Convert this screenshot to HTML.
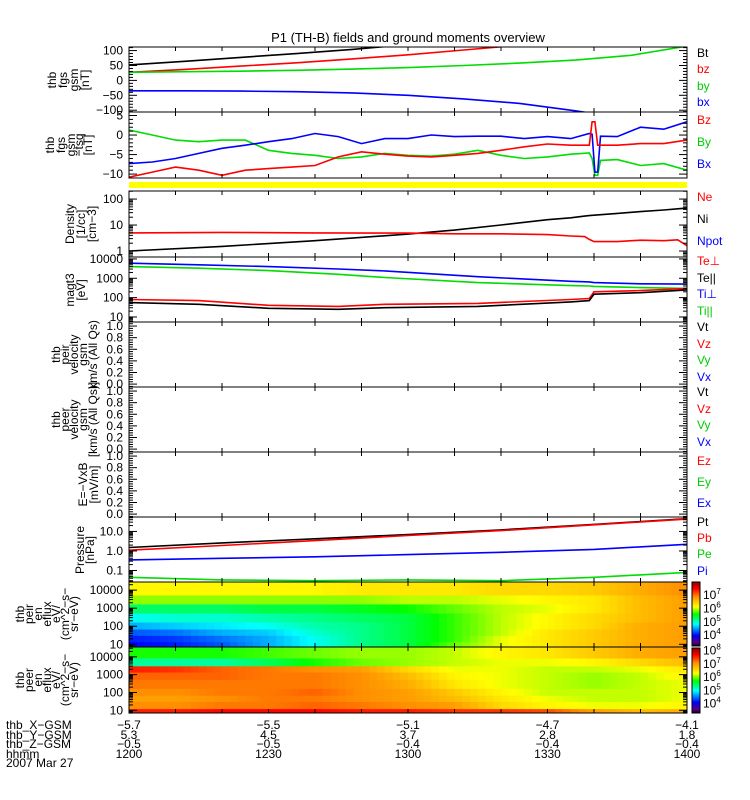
<!DOCTYPE html>
<html><head><meta charset="utf-8"><title>P1 (TH-B) overview</title>
<style>
html,body{margin:0;padding:0;background:#fff;}
svg{display:block;font-family:"Liberation Sans",sans-serif;}
</style></head>
<body>
<svg id="fig" width="750" height="800" viewBox="0 0 750 800" xmlns="http://www.w3.org/2000/svg">
<text x="408" y="42" font-size="13" text-anchor="middle">P1 (TH-B) fields and ground moments overview</text>
<g id="layer"></g>
</svg>
<script>
// ---- time axis (minutes after 12:00) ----
const xTickMinutes = [0, 30, 60, 90, 120];
const xTickHHMM = ["1200", "1230", "1300", "1330", "1400"];
const xGsm = ["-5.7", "-5.5", "-5.1", "-4.7", "-4.1"];
const yGsm = ["5.3", "4.5", "3.7", "2.8", "1.8"];
const zGsm = ["-0.5", "-0.5", "-0.4", "-0.4", "-0.4"];

// ---- panel 1: fgs gsm (nT) ----
const fgsTime = [0, 12, 24, 36, 48, 60, 72, 84, 96, 108, 120];
const fgsBt = [52, 64, 77, 90, 104, 120, 138, 158, 180, 205, 235];
const fgsBz = [27, 37, 48, 59, 72, 86, 102, 118, 136, 156, 178];
const fgsBy = [27, 29, 31, 34, 38, 43, 50, 58, 68, 84, 115];
const fgsBx = [-35, -35, -36, -38, -42, -50, -62, -77, -102, -130, -165];

// ---- panel 2: fgs - tsyganenko (nT) ----
const tsqTime = [0, 5, 10, 15, 20, 25, 30, 35, 40, 45, 50, 55, 60, 65, 70, 75, 80, 85, 90, 95, 99, 99.6, 100.2, 100.8, 101.4, 105, 110, 115, 120];
const tsqBy = [1.3, 0, -1.3, -1.7, -1.3, -1.3, -3.9, -4.7, -5.2, -6, -5.6, -4.7, -5.2, -5.4, -4.9, -3.9, -5.2, -6, -5.6, -4.9, -4.6, -6, -10.3, -10.3, -6.5, -6.3, -7.8, -7.3, -9];
const tsqBx = [-7.3, -6.9, -6, -4.7, -3.4, -2.6, -1.7, -0.9, 0.4, -0.4, -2.2, -0.9, -0.9, 0, -0.4, -0.3, -0.3, -0.9, -0.4, -0.9, 0.4, 0.2, -9.5, -9.5, -0.3, -0.4, 2, 1.5, 3.4];
const tsqBz = [-10.8, -9.5, -8.2, -9, -10.3, -9, -8.6, -8.2, -7.8, -5.6, -4.3, -4.9, -5.4, -5.6, -5.2, -4.7, -3.9, -3, -2.3, -2.6, -2.6, 3.4, 3.4, -2.6, -2.6, -2.6, -2.2, -2.2, -1.3];

// ---- panel 3: density (1/cc) ----
const denTime = [0, 20, 40, 60, 70, 80, 90, 95, 98, 99, 100, 105, 110, 115, 118, 120];
const denNi = [1.0, 1.5, 2.5, 4.5, 6.4, 10, 16, 19, 22, 23, 24, 28, 33, 38, 42, 45];
const denNe = [5, 5.2, 5, 4.9, 4.6, 4.6, 4.3, 3.8, 3.6, 2.8, 2.3, 2.3, 2.6, 2.5, 2.7, 1.6];

// ---- panel 4: temperature (eV) ----
const tmpTime = [0, 15, 30, 45, 55, 75, 95, 99, 100, 110, 120];
const tmpTiPerp = [6000, 5000, 4000, 3000, 2400, 1200, 700, 650, 600, 520, 500];
const tmpTiPar = [4000, 3300, 2500, 1600, 1100, 600, 420, 400, 380, 330, 300];
const tmpTePerp = [80, 70, 40, 35, 45, 50, 80, 90, 200, 230, 300];
const tmpTePar = [55, 45, 28, 25, 30, 35, 60, 70, 150, 180, 250];

// ---- panel 8: pressure (nPa) ----
const prsTime = [0, 20, 40, 60, 80, 100, 120];
const prsPt = [1.5, 2.6, 4.2, 7, 12, 23, 45];
const prsPb = [1.1, 1.9, 3.4, 6.2, 11, 22, 43];
const prsPi = [0.35, 0.42, 0.5, 0.65, 0.85, 1.2, 2.2];
const prsPe = [0.045, 0.033, 0.03, 0.033, 0.03, 0.045, 0.08];

// ---- spectrograms: log10 eflux, columns every 10 min, rows bottom->top ----
const specTime = [0, 10, 20, 30, 40, 50, 60, 70, 80, 90, 100, 110, 120];
const ionEnergy = [10, 20, 50, 100, 300, 1000, 3000, 10000];
const ionFlux = [
 [4.0,4.1,4.3,4.6,4.9,5.3,5.9,6.2],
 [4.1,4.2,4.4,4.7,5.0,5.3,5.9,6.2],
 [4.3,4.4,4.6,4.8,5.0,5.3,5.9,6.2],
 [4.6,4.6,4.7,4.9,5.1,5.4,5.9,6.2],
 [4.9,4.9,5.0,5.1,5.2,5.4,5.9,6.2],
 [5.2,5.2,5.2,5.2,5.3,5.5,5.9,6.3],
 [5.4,5.4,5.4,5.4,5.4,5.6,6.0,6.3],
 [5.8,5.7,5.7,5.7,5.7,5.8,6.0,6.3],
 [6.1,6.1,6.0,6.0,6.0,6.0,6.1,6.4],
 [6.3,6.3,6.3,6.2,6.2,6.1,6.2,6.4],
 [6.5,6.5,6.5,6.4,6.4,6.3,6.3,6.5],
 [6.7,6.7,6.7,6.7,6.6,6.6,6.6,6.7],
 [6.8,6.8,6.8,6.8,6.8,6.8,6.8,6.9]];
const eleEnergy = [8, 20, 50, 100, 300, 1000, 2000, 5000, 15000];
const eleFlux = [
 [7.6,7.1,7.0,7.1,7.2,7.3,7.6,5.3,5.8],
 [7.6,7.1,7.0,7.1,7.2,7.3,7.5,5.3,5.8],
 [7.7,7.2,7.1,7.2,7.2,7.3,7.3,5.3,5.8],
 [7.7,7.2,7.2,7.2,7.2,7.2,7.2,5.5,5.9],
 [7.7,7.3,7.2,7.3,7.2,7.2,7.1,5.8,6.0],
 [7.6,7.2,7.1,7.1,7.1,7.1,7.0,6.0,6.1],
 [7.6,7.1,7.0,7.0,6.9,6.8,6.6,6.1,6.1],
 [7.5,7.0,6.8,6.7,6.5,6.4,6.3,6.2,6.2],
 [7.5,6.6,6.5,6.4,6.3,6.3,6.3,6.3,6.4],
 [7.4,6.4,6.3,6.2,6.2,6.2,6.2,6.3,6.5],
 [7.0,6.3,6.2,6.2,6.1,6.1,6.2,6.4,6.7],
 [6.8,6.3,6.2,6.2,6.2,6.2,6.3,6.6,6.9],
 [6.9,6.4,6.3,6.3,6.3,6.4,6.5,6.8,7.0]];

// ================= rendering =================
const NS = "http://www.w3.org/2000/svg";
const layer = document.getElementById("layer");
const X0 = 129, X1 = 687;
function xScale(m){ return X0 + (m/120)*(X1-X0); }
function mk(tag, attrs, parent){
  const e = document.createElementNS(NS, tag);
  for (const k in attrs) e.setAttribute(k, attrs[k]);
  (parent||layer).appendChild(e);
  return e;
}
function linY(top, bot, vmin, vmax){ return v => bot - (v - vmin)/(vmax - vmin)*(bot - top); }
function logY(top, bot, lmin, lmax){ return v => bot - (Math.log10(v) - lmin)/(lmax - lmin)*(bot - top); }

function clipFor(id, top, bot){
  const cp = mk("clipPath", {id:id});
  mk("rect", {x:X0, y:top, width:X1-X0, height:bot-top}, cp);
  return "url(#"+id+")";
}
function series(times, vals, ys, color, clip, name){
  let pts = times.map((t,i)=> xScale(t).toFixed(1)+","+ys(vals[i]).toFixed(1)).join(" ");
  const p = mk("polyline", {points:pts, fill:"none", stroke:color, "stroke-width":1.6, "clip-path":clip});
  
  
}
function frame(top, bot, name){
  const r = mk("rect", {x:X0, y:top, width:X1-X0, height:bot-top, fill:"none", stroke:"#000", "stroke-width":1});
  
  
  for (let m=0; m<=120; m+=10){
    const x = xScale(m);
    mk("line", {x1:x, y1:top, x2:x, y2:top+4, stroke:"#000"});
    mk("line", {x1:x, y1:bot, x2:x, y2:bot-4, stroke:"#000"});
  }
}
function ytick(y, len){
  mk("line", {x1:X0, y1:y, x2:X0+len, y2:y, stroke:"#000"});
  mk("line", {x1:X1, y1:y, x2:X1-len, y2:y, stroke:"#000"});
}
function ylabel(y, txt){
  const t = mk("text", {x:123, y:y+4, "font-size":12, "text-anchor":"end"});
  t.textContent = txt;
  
  
}
function linTicks(ys, top, bot, major, minor, labels){
  for (let v=-200; v<=200; v+=minor){
    const vv = Math.round(v*1000)/1000, y = ys(vv);
    if (y < top-0.5 || y > bot+0.5) continue;
    const isMaj = Math.abs(vv/major - Math.round(vv/major)) < 1e-6;
    ytick(y, isMaj ? 8 : 4);
  }
  labels.forEach(l => ylabel(ys(l[0]), l[1]));
}
function logTicks(ys, top, bot, dmin, dmax, labels){
  for (let d=dmin; d<=dmax; d++){
    for (let k=1;k<10;k++){
      const y = ys(k*Math.pow(10,d));
      if (y < top-0.5 || y > bot+0.5) continue;
      ytick(y, k===1 ? 8 : 4);
    }
  }
  labels.forEach(l => ylabel(ys(l[0]), l[1]));
}
function leftTitle(lines, cy, xs, name){
  const g = mk("g", {});
  
  
  lines.forEach((s,i)=>{
    const t = mk("text", {x:0, y:0, "font-size":12, "text-anchor":"middle", transform:"translate("+xs[i]+","+cy+") rotate(-90)"}, g);
    t.textContent = s;
  });
}
function rightLabels(items, name){
  items.forEach(it=>{
    const t = mk("text", {x:697, y:it[0], "font-size":12, fill:it[2]});
    t.textContent = it[1];
    
    
  });
}
// colormap
const cstops = [[0,[0,0,0]],[0.06,[90,0,130]],[0.17,[0,0,255]],[0.35,[0,255,255]],[0.5,[0,255,0]],[0.62,[255,255,0]],[0.78,[255,140,0]],[0.9,[255,0,0]],[1,[150,0,0]]];
function cmap(t){
  t = Math.max(0, Math.min(1, t));
  for (let i=1;i<cstops.length;i++){
    if (t <= cstops[i][0]){
      const a=cstops[i-1], b=cstops[i], f=(t-a[0])/(b[0]-a[0]);
      const c=a[1].map((v,j)=>Math.round(v+(b[1][j]-v)*f));
      return "rgb("+c.join(",")+")";
    }
  }
  return "rgb(150,0,0)";
}
function spectro(top, bot, ys, energies, flux, fmin, fmax, name){
  const g = mk("g", {"clip-path":clipFor(name+"-clip", top, bot)});
  
  
  const le = energies.map(e=>Math.log10(e));
  const SUB = 6;
  for (let c=0;c<specTime.length-1;c++){
    for (let s=0;s<SUB;s++){
      const f = s/SUB;
      const ta = specTime[c] + (specTime[c+1]-specTime[c])*f;
      const tb = specTime[c] + (specTime[c+1]-specTime[c])*(s+1)/SUB;
      const xa = xScale(ta), xb = xScale(tb);
      for (let r=0;r<energies.length;r++){
        const lo = r===0 ? -1 : (le[r-1]+le[r])/2;
        const hi = r===energies.length-1 ? 6 : (le[r]+le[r+1])/2;
        const yb = ys(Math.pow(10,lo)), yt = ys(Math.pow(10,hi));
        const v = flux[c][r]*(1-f-0.5/SUB) + flux[c+1][r]*(f+0.5/SUB);
        mk("rect", {x:xa.toFixed(2), y:yt.toFixed(2), width:(xb-xa+0.6).toFixed(2), height:(yb-yt+0.6).toFixed(2), fill:cmap((v-fmin)/(fmax-fmin))}, g);
      }
    }
  }
}
function colorbar(top, bot, fmin, fmax, name){
  const g = mk("g", {});
  
  
  const n = 60;
  for (let i=0;i<n;i++){
    const y = top + (bot-top)*i/n;
    mk("rect", {x:692, y:y, width:8, height:(bot-top)/n+0.5, fill:cmap(1 - i/n)}, g);
  }
  mk("rect", {x:692, y:top, width:8, height:bot-top, fill:"none", stroke:"#000"}, g);
  for (let d=Math.ceil(fmin); d<=Math.floor(fmax); d++){
    const y = bot - (d-fmin)/(fmax-fmin)*(bot-top);
    const t = mk("text", {x:703, y:y+4, "font-size":12}, g);
    t.textContent = "10";
    const s = mk("tspan", {dy:-5, "font-size":8}, t);
    s.textContent = String(d);
  }
}

// ---- Panel 1 ----
(function(){
  const top=47, bot=112, ys=linY(top,bot,-106,112), clip=clipFor("c1",top,bot);
  series(fgsTime, fgsBt, ys, "#000", clip, "fgs-bt-line");
  series(fgsTime, fgsBz, ys, "#f00", clip, "fgs-bz-line");
  series(fgsTime, fgsBy, ys, "#0d0", clip, "fgs-by-line");
  series(fgsTime, fgsBx, ys, "#00f", clip, "fgs-bx-line");
  frame(top, bot, "fgs-panel");
  linTicks(ys, top, bot, 50, 10, [[100,"100"],[50,"50"],[0,"0"],[-50,"\u221250"],[-100,"\u2212100"]]);
  leftTitle(["thb","fgs","gsm","[nT]"], 80, [56,67,78,89], "fgs-y-title");
  rightLabels([[57,"Bt","#000"],[73,"bz","#f00"],[90,"by","#0c0"],[106,"bx","#00f"]], "legend");
})();
// ---- Panel 2 ----
(function(){
  const top=112, bot=178, ys=linY(top,bot,-11.0,5.9), clip=clipFor("c2",top,bot);
  series(tsqTime, tsqBy, ys, "#0d0", clip, "tsq-by-line");
  series(tsqTime, tsqBx, ys, "#00f", clip, "tsq-bx-line");
  series(tsqTime, tsqBz, ys, "#f00", clip, "tsq-bz-line");
  frame(top, bot, "fgs-tsq-panel");
  linTicks(ys, top, bot, 5, 1, [[5,"5"],[0,"0"],[-5,"\u22125"],[-10,"\u221210"]]);
  leftTitle(["thb","fgs","gsm","\u2212tsq","[nT]"], 145, [54,65,75,83,92], "tsq-y-title");
  rightLabels([[124,"Bz","#f00"],[146,"By","#0c0"],[168,"Bx","#00f"]], "legend");
  const yb = mk("rect", {x:X0, y:182, width:X1-X0, height:6, fill:"#ffff00"});
  
  
})();
// ---- Panel 3 density ----
(function(){
  const top=191, bot=257, ys=logY(top,bot,-0.23,2.31), clip=clipFor("c3",top,bot);
  series(denTime, denNi, ys, "#000", clip, "density-ni-line");
  series(denTime, denNe, ys, "#f00", clip, "density-ne-line");
  frame(top, bot, "density-panel");
  logTicks(ys, top, bot, -1, 2, [[100,"100"],[10,"10"],[1,"1"]]);
  leftTitle(["Density","[1/cc]","[cm\u22123]"], 224, [74,85,96], "density-y-title");
  rightLabels([[201,"Ne","#f00"],[223,"Ni","#000"],[245,"Npot","#00f"]], "legend");
})();
// ---- Panel 4 temperature ----
(function(){
  const top=257, bot=322, ys=logY(top,bot,0.74,4.1), clip=clipFor("c4",top,bot);
  series(tmpTime, tmpTiPerp, ys, "#00f", clip, "temp-ti-perp-line");
  series(tmpTime, tmpTiPar, ys, "#0d0", clip, "temp-ti-par-line");
  series(tmpTime, tmpTePerp, ys, "#f00", clip, "temp-te-perp-line");
  series(tmpTime, tmpTePar, ys, "#000", clip, "temp-te-par-line");
  frame(top, bot, "temperature-panel");
  logTicks(ys, top, bot, 0, 4, [[10000,"10000"],[1000,"1000"],[100,"100"],[10,"10"]]);
  leftTitle(["magt3","[eV]"], 290, [74,85], "temperature-y-title");
  rightLabels([[265,"Te\u22a5","#f00"],[282,"Te||","#000"],[298,"Ti\u22a5","#00f"],[315,"Ti||","#0c0"]], "legend");
})();
// ---- Panels 5-7 empty ----
function emptyPanel(top, bot, titles, xs, labels, name){
  const ys = linY(top, bot, -0.05, 1.07);
  frame(top, bot, name);
  linTicks(ys, top, bot, 0.2, 0.04, [[1.0,"1.0"],[0.8,"0.8"],[0.6,"0.6"],[0.4,"0.4"],[0.2,"0.2"],[0.0,"0.0"]]);
  leftTitle(titles, (top+bot)/2, xs, name+"-y-title");
  rightLabels(labels, "legend");
}
emptyPanel(322, 387, ["thb","peir","velocity","gsm","km/s (All Qs)"], [60,69,78,87,97],
  [[331,"Vt","#000"],[348,"Vz","#f00"],[364,"Vy","#0c0"],[381,"Vx","#00f"]], "peir-velocity-panel");
emptyPanel(387, 452, ["thb","peer","velocity","gsm","[km/s (All Qs)]"], [60,69,78,87,97],
  [[396,"Vt","#000"],[413,"Vz","#f00"],[429,"Vy","#0c0"],[446,"Vx","#00f"]], "peer-velocity-panel");
emptyPanel(452, 517, ["E=\u2212VxB","[mV/m]"], [87,98],
  [[465,"Ez","#f00"],[486,"Ey","#0c0"],[507,"Ex","#00f"]], "efield-panel");
// ---- Panel 8 pressure ----
(function(){
  const top=517, bot=582, ys=logY(top,bot,-1.59,1.74), clip=clipFor("c8",top,bot);
  series(prsTime, prsPt, ys, "#000", clip, "pressure-pt-line");
  series(prsTime, prsPb, ys, "#f00", clip, "pressure-pb-line");
  series(prsTime, prsPi, ys, "#00f", clip, "pressure-pi-line");
  series(prsTime, prsPe, ys, "#0d0", clip, "pressure-pe-line");
  frame(top, bot, "pressure-panel");
  logTicks(ys, top, bot, -2, 1, [[10,"10.0"],[1,"1.0"],[0.1,"0.1"]]);
  leftTitle(["Pressure","[nPa]"], 550, [84,94], "pressure-y-title");
  rightLabels([[526,"Pt","#000"],[542,"Pb","#f00"],[558,"Pe","#0c0"],[575,"Pi","#00f"]], "legend");
})();
// ---- Panel 9 ion spectrogram ----
(function(){
  const top=582, bot=647, ys=logY(top,bot,0.85,4.45);
  spectro(top, bot, ys, ionEnergy, ionFlux, 3.2, 7.96, "ion-spectrogram");
  frame(top, bot, "ion-spectrogram-panel");
  logTicks(ys, top, bot, 0, 4, [[10000,"10000"],[1000,"1000"],[100,"100"],[10,"10"]]);
  leftTitle(["thb","peir","en","eflux","eV/","(cm^2\u2212s\u2212","sr\u2212eV)"], 614, [24,33,42,51,60,69,78], "ion-spectrogram-y-title");
  colorbar(582, 646, 3.2, 7.96, "ion-colorbar");
})();
// ---- Panel 10 electron spectrogram ----
(function(){
  const top=647, bot=713, ys=logY(top,bot,0.85,4.55);
  spectro(top, bot, ys, eleEnergy, eleFlux, 3.3, 8.2, "electron-spectrogram");
  frame(top, bot, "electron-spectrogram-panel");
  logTicks(ys, top, bot, 0, 4, [[10000,"10000"],[1000,"1000"],[100,"100"],[10,"10"]]);
  leftTitle(["thb","peer","en","eflux","eV/","(cm^2\u2212s\u2212","sr\u2212eV)"], 680, [24,33,42,51,60,69,78], "electron-spectrogram-y-title");
  colorbar(648, 713, 3.3, 8.2, "electron-colorbar");
})();
// ---- bottom annotation rows ----
(function(){
  const rows = [["thb_X\u2212GSM", xGsm, 729],["thb_Y\u2212GSM", yGsm, 739],["thb_Z\u2212GSM", zGsm, 748],["hhmm", xTickHHMM, 758]];
  rows.forEach(r=>{
    const t = mk("text", {x:6, y:r[2], "font-size":12});
    t.textContent = r[0];
    
    
    xTickMinutes.forEach((m,i)=>{
      const v = mk("text", {x:xScale(m), y:r[2], "font-size":12, "text-anchor":"middle"});
      v.textContent = r[1][i].replace("-", "\u2212");
      
      
    });
  });
  const d = mk("text", {x:6, y:767, "font-size":12});
  d.textContent = "2007 Mar 27";
  
  
})();
</script>
</body></html>
